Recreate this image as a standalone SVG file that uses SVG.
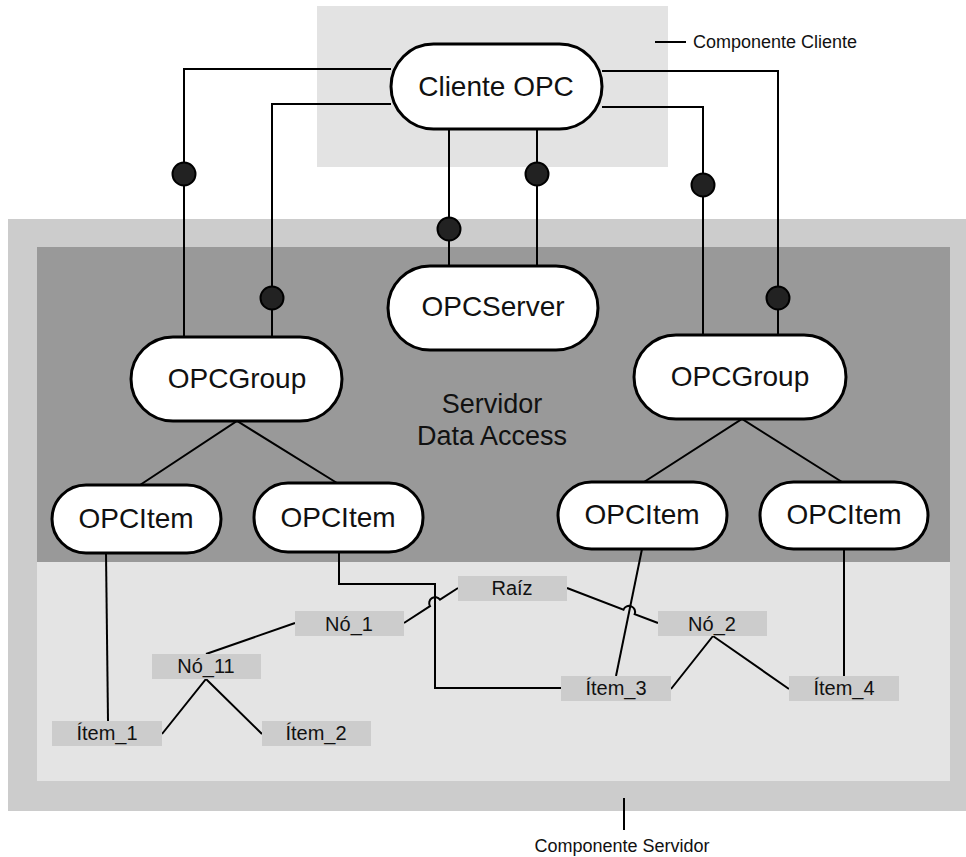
<svg xmlns="http://www.w3.org/2000/svg" width="966" height="857" viewBox="0 0 966 857">
  <style>
    .node rect.shape { fill: #ffffff; stroke: #000000; stroke-width: 3; }
    .node text { font-family: "Liberation Sans", Arial, sans-serif; font-size: 28px; fill: #111111; text-anchor: middle; }
    .leaf rect { fill: #cccccc; }
    .leaf text { font-family: "Liberation Sans", Arial, sans-serif; font-size: 20px; fill: #111111; text-anchor: middle; }
    .wire { fill: none; stroke: #000000; stroke-width: 2; }
    .dot { fill: #222222; stroke: #000000; stroke-width: 2; }
    .caption { font-family: "Liberation Sans", Arial, sans-serif; font-size: 18px; fill: #111111; }
    .region-label { font-family: "Liberation Sans", Arial, sans-serif; font-size: 27px; fill: #111111; text-anchor: middle; }
  </style>

  <rect x="0" y="0" width="966" height="857" fill="#ffffff"/>

  <!-- component regions -->
  <g id="regions">
    <rect id="client-area" x="317" y="6" width="351" height="161" fill="#e3e3e3"/>
    <rect id="server-area" x="8" y="219" width="958" height="592" fill="#cccccc"/>
    <rect id="data-access" x="37" y="247" width="913" height="315" fill="#999999"/>
    <rect id="address-space" x="37" y="562" width="913" height="219" fill="#e4e4e4"/>
    <text class="region-label" x="492" y="413">Servidor</text>
    <text class="region-label" x="492" y="445">Data Access</text>
  </g>

  <!-- callouts -->
  <g id="callouts">
    <line class="wire" x1="655" y1="42" x2="686" y2="42" stroke-width="1.5"/>
    <text class="caption" x="693" y="48">Componente Cliente</text>
    <line class="wire" x1="624" y1="798" x2="624" y2="830" stroke-width="1.5"/>
    <text class="caption" x="622" y="852" text-anchor="middle">Componente Servidor</text>
  </g>

  <!-- connectors -->
  <g id="connectors">
    <!-- client interfaces -->
    <polyline class="wire" points="391,69 184,69 184,337"/>
    <polyline class="wire" points="391,104 272,104 272,337"/>
    <polyline class="wire" points="602,71 778,71 778,335"/>
    <polyline class="wire" points="602,107 703,107 703,335"/>
    <line class="wire" x1="449" y1="129" x2="449" y2="266"/>
    <line class="wire" x1="537" y1="129" x2="537" y2="266"/>
    <circle class="dot" cx="184" cy="174" r="11.5"/>
    <circle class="dot" cx="272" cy="298" r="11.5"/>
    <circle class="dot" cx="449" cy="229" r="11.5"/>
    <circle class="dot" cx="537" cy="174" r="11.5"/>
    <circle class="dot" cx="703" cy="185" r="11.5"/>
    <circle class="dot" cx="778" cy="298" r="11.5"/>

    <!-- groups to items -->
    <polyline class="wire" points="140,485 237,421 337,483"/>
    <polyline class="wire" points="644,482 742,419 842,482"/>

    <!-- items to address space -->
    <line class="wire" x1="106" y1="553" x2="108" y2="721"/>
    <polyline class="wire" points="339,552 339,584 435,584 435,688 561,688"/>
    <line class="wire" x1="642" y1="549" x2="616" y2="676"/>
    <line class="wire" x1="844" y1="549" x2="844" y2="676"/>

    <!-- address space tree -->
    <path class="wire" d="M458,588 L440,599.6 A6,6 0 0 0 430,606.2 L404,623"/>
    <path class="wire" d="M567,588 L623.5,609.7 A6,6 0 0 1 634.7,614.1 L658,623"/>
    <line class="wire" x1="295" y1="623" x2="206" y2="654"/>
    <polyline class="wire" points="162,734 206,679 262,734"/>
    <polyline class="wire" points="671,689 713,636 789,689"/>
  </g>

  <!-- client -->
  <g id="cliente-opc" class="node">
    <rect class="shape" x="391" y="44" width="211" height="85" rx="42.5"/>
    <text x="496" y="96">Cliente OPC</text>
  </g>

  <!-- server objects -->
  <g id="opc-server" class="node">
    <rect class="shape" x="388" y="266" width="210" height="84" rx="42"/>
    <text x="493" y="316">OPCServer</text>
  </g>
  <g id="opc-group-1" class="node">
    <rect class="shape" x="131" y="337" width="211" height="84" rx="42"/>
    <text x="237" y="388">OPCGroup</text>
  </g>
  <g id="opc-group-2" class="node">
    <rect class="shape" x="634" y="335" width="212" height="84" rx="42"/>
    <text x="740" y="386">OPCGroup</text>
  </g>
  <g id="opc-item-1" class="node">
    <rect class="shape" x="52" y="485" width="169" height="68" rx="34"/>
    <text x="136" y="528">OPCItem</text>
  </g>
  <g id="opc-item-2" class="node">
    <rect class="shape" x="254" y="483" width="169" height="69" rx="34"/>
    <text x="338" y="527">OPCItem</text>
  </g>
  <g id="opc-item-3" class="node">
    <rect class="shape" x="558" y="482" width="169" height="67" rx="33.5"/>
    <text x="642" y="524">OPCItem</text>
  </g>
  <g id="opc-item-4" class="node">
    <rect class="shape" x="760" y="482" width="168" height="67" rx="33.5"/>
    <text x="844" y="524">OPCItem</text>
  </g>

  <!-- address space entries -->
  <g id="raiz" class="leaf">
    <rect x="458" y="576" width="109" height="25"/>
    <text x="512" y="595">Raíz</text>
  </g>
  <g id="no-1" class="leaf">
    <rect x="295" y="611" width="109" height="25"/>
    <text x="349" y="631">Nó_1</text>
  </g>
  <g id="no-11" class="leaf">
    <rect x="152" y="654" width="109" height="25"/>
    <text x="206" y="673">Nó_11</text>
  </g>
  <g id="no-2" class="leaf">
    <rect x="658" y="611" width="109" height="25"/>
    <text x="712" y="631">Nó_2</text>
  </g>
  <g id="item-1" class="leaf">
    <rect x="52" y="721" width="110" height="25"/>
    <text x="107" y="740">Ítem_1</text>
  </g>
  <g id="item-2" class="leaf">
    <rect x="262" y="721" width="109" height="25"/>
    <text x="316" y="740">Ítem_2</text>
  </g>
  <g id="item-3" class="leaf">
    <rect x="561" y="676" width="110" height="25"/>
    <text x="616" y="695">Ítem_3</text>
  </g>
  <g id="item-4" class="leaf">
    <rect x="789" y="676" width="110" height="25"/>
    <text x="844" y="695">Ítem_4</text>
  </g>
</svg>
